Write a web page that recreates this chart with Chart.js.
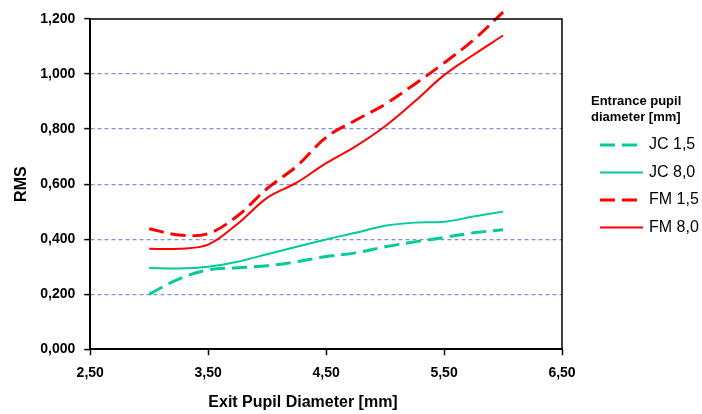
<!DOCTYPE html>
<html>
<head>
<meta charset="utf-8">
<script src="https://cdn.jsdelivr.net/npm/chart.js@4.4.0/dist/chart.umd.min.js"></script>
<style>
  html, body { margin: 0; padding: 0; background: #fff; }
  #wrap { width: 702px; height: 414px; }
</style>
</head>
<body>
<div id="wrap"><canvas id="rmsChart" width="702" height="414"></canvas></div>
<script>
// exit pupil diameter [mm]
const exitPupil = [3.0, 3.25, 3.5, 3.75, 4.0, 4.25, 4.5, 4.75, 5.0, 5.25, 5.5, 5.75, 6.0];

// RMS per series
const jc15 = [0.200, 0.255, 0.288, 0.296, 0.303, 0.318, 0.337, 0.350, 0.372, 0.390, 0.406, 0.423, 0.434];
const jc80 = [0.295, 0.293, 0.300, 0.318, 0.345, 0.372, 0.399, 0.423, 0.449, 0.460, 0.463, 0.482, 0.500];
const fm15 = [0.438, 0.415, 0.420, 0.485, 0.584, 0.665, 0.770, 0.832, 0.890, 0.963, 1.040, 1.124, 1.225];
const fm80 = [0.365, 0.365, 0.380, 0.456, 0.550, 0.605, 0.676, 0.737, 0.810, 0.900, 0.996, 1.070, 1.140];

const seriesLabels = ['JC 1,5', 'JC 8,0', 'FM 1,5', 'FM 8,0'];
const legendTitle = ['Entrance pupil', 'diameter [mm]'];
const xTitle = 'Exit Pupil Diameter [mm]';

const xTicks = [2.5, 3.5, 4.5, 5.5, 6.5];
const yTicks = [0, 0.2, 0.4, 0.6, 0.8, 1.0, 1.2];

const GREEN = '#00cc99';
const RED = '#ff0000';
const GRID = '#8a8ae0';
const FONT = '"Liberation Sans", Arial, sans-serif';

const toPoints = (ys) => ys.map((y, i) => ({ x: exitPupil[i], y }));
const comma = (v, d) => v.toFixed(d).replace('.', ',');

// black frame round the plot area
const frame = {
    id: 'frame',
    afterDatasetsDraw(chart) {
        const a = chart.chartArea, c = chart.ctx;
        c.save();
        c.strokeStyle = '#000';
        c.lineWidth = 1.5;
        c.strokeRect(a.left, a.top, a.right - a.left, a.bottom - a.top);
        c.restore();
    }
};

// legend on the right + x axis title (sits a bit left of the plot centre in the original)
const sideLegend = {
    id: 'sideLegend',
    afterDraw(chart) {
        const c = chart.ctx;
        c.save();
        c.fillStyle = '#000';
        c.textBaseline = 'middle';
        c.font = 'bold 16px ' + FONT;
        c.textAlign = 'center';
        c.fillText(xTitle, 303, 403);
        c.textAlign = 'left';
        c.font = 'bold 13px ' + FONT;
        legendTitle.forEach((t, i) => c.fillText(t, 591, 101 + i * 16));
        c.font = '16px ' + FONT;
        chart.data.datasets.forEach((ds, i) => {
            const y = 145 + i * 27.5;
            c.strokeStyle = ds.borderColor;
            c.lineWidth = ds.borderDash.length ? 3 : 2;
            c.setLineDash(ds.borderDash.length ? [15, 7] : []);
            c.beginPath();
            c.moveTo(600, y);
            c.lineTo(643, y);
            c.stroke();
            c.setLineDash([]);
            c.fillStyle = '#000';
            c.fillText(ds.label, 649, y);
        });
        c.restore();
    }
};

const mk = (label, data, color, dashed) => ({
    label,
    data: toPoints(data),
    borderColor: color,
    backgroundColor: color,
    borderWidth: dashed ? 3 : 2,
    borderDash: dashed ? [15, 7] : [],
    pointRadius: 0,
    tension: 0.35,
    fill: false,
    clip: false
});

new Chart(document.getElementById('rmsChart'), {
    type: 'line',
    data: {
        datasets: [
            mk(seriesLabels[0], jc15, GREEN, true),
            mk(seriesLabels[1], jc80, GREEN, false),
            mk(seriesLabels[2], fm15, RED, true),
            mk(seriesLabels[3], fm80, RED, false)
        ]
    },
    plugins: [frame, sideLegend],
    options: {
        responsive: false,
        animation: false,
        layout: { padding: { top: 19, right: 140, bottom: 22, left: 0 } },
        plugins: { legend: { display: false }, tooltip: { enabled: false } },
        scales: {
            x: {
                type: 'linear',
                min: 2.5,
                max: 6.5,
                afterBuildTicks: (s) => { s.ticks = xTicks.map(v => ({ value: v })); },
                ticks: {
                    color: '#000',
                    font: { family: FONT, size: 14, weight: 'bold' },
                    padding: 10,
                    maxRotation: 0,
                    callback: (v) => comma(v, 2)
                },
                grid: { drawOnChartArea: false, tickLength: 6, tickColor: '#000', tickWidth: 1.5 },
                border: { color: '#000', width: 1.5 }
            },
            y: {
                min: 0,
                max: 1.2,
                afterBuildTicks: (s) => { s.ticks = yTicks.map(v => ({ value: v })); },
                ticks: {
                    color: '#000',
                    font: { family: FONT, size: 14, weight: 'bold' },
                    padding: 9,
                    callback: (v) => comma(v, 3)
                },
                grid: {
                    color: (ctx) => (ctx.tick && (ctx.tick.value === 0 || ctx.tick.value === 1.2)) ? 'rgba(0,0,0,0)' : GRID,
                    lineWidth: 1.2,
                    tickLength: 6,
                    tickColor: '#000',
                    tickWidth: 1.5,
                    tickBorderDash: []
                },
                border: { color: '#000', width: 1.5, dash: [4, 3] },
                title: {
                    display: true,
                    text: 'RMS',
                    color: '#000',
                    font: { family: FONT, size: 16, weight: 'bold' },
                    padding: { top: 12, bottom: 0 }
                }
            }
        }
    }
});
</script>
</body>
</html>
